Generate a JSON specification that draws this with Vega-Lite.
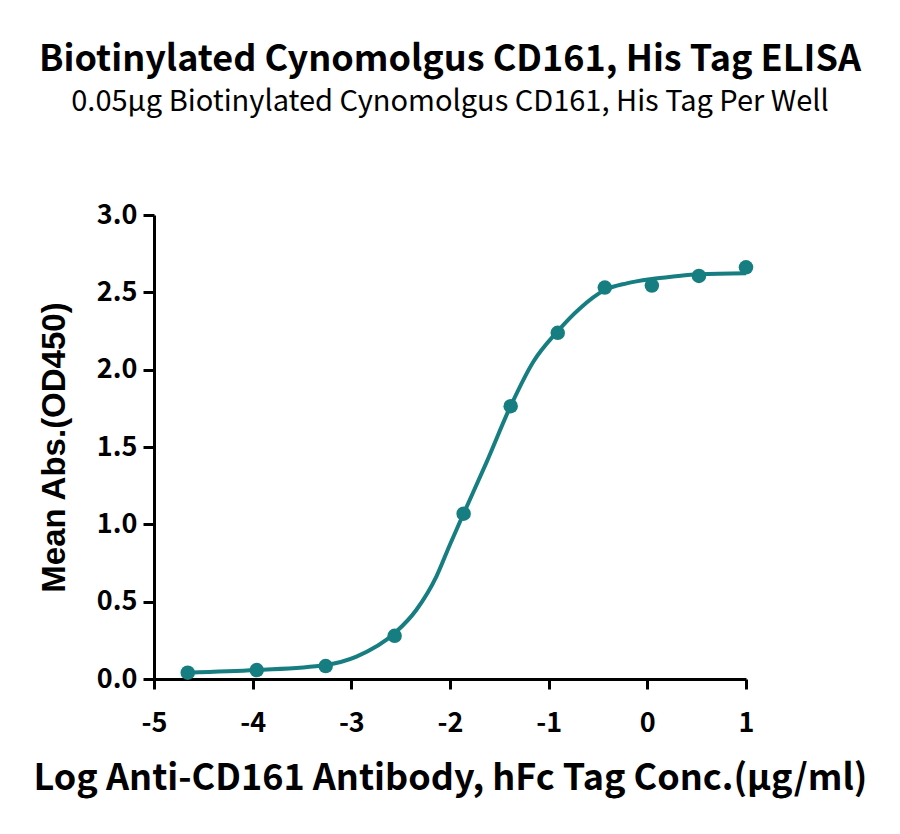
{
  "$schema": "https://vega.github.io/schema/vega-lite/v6.json",
  "width": 592,
  "height": 464,
  "autosize": {"type": "none"},
  "padding": {"left": 154, "top": 215, "right": 154, "bottom": 155},
  "background": "white",
  "title": {
    "text": "Biotinylated Cynomolgus CD161, His Tag ELISA",
    "subtitle": "0.05μg Biotinylated Cynomolgus CD161, His Tag Per Well",
    "anchor": "middle",
    "frame": "group",
    "font": "Noto Sans CJK SC",
    "fontSize": 36,
    "fontWeight": "bold",
    "color": "black",
    "subtitleFont": "Noto Sans CJK SC",
    "subtitleFontSize": 29,
    "subtitleColor": "black",
    "subtitlePadding": 9,
    "offset": 83
  },
  "datasets": {
    "points": [
      {"logc": 1.0, "od": 2.662},
      {"logc": 0.523, "od": 2.606},
      {"logc": 0.046, "od": 2.544},
      {"logc": -0.431, "od": 2.531},
      {"logc": -0.908, "od": 2.238},
      {"logc": -1.385, "od": 1.764},
      {"logc": -1.862, "od": 1.069},
      {"logc": -2.561, "od": 0.279},
      {"logc": -3.260, "od": 0.084},
      {"logc": -3.959, "od": 0.058},
      {"logc": -4.658, "od": 0.041}
    ],
    "curve": [
      {"logc": -4.658, "od": 0.041},
      {"logc": -3.962, "od": 0.058},
      {"logc": -3.260, "od": 0.091},
      {"logc": -2.948, "od": 0.145},
      {"logc": -2.560, "od": 0.297},
      {"logc": -2.340, "od": 0.448},
      {"logc": -2.137, "od": 0.664},
      {"logc": -2.000, "od": 0.870},
      {"logc": -1.865, "od": 1.065},
      {"logc": -1.630, "od": 1.401},
      {"logc": -1.386, "od": 1.764},
      {"logc": -1.157, "od": 2.050},
      {"logc": -0.914, "od": 2.245},
      {"logc": -0.684, "od": 2.396},
      {"logc": -0.431, "od": 2.515},
      {"logc": -0.210, "od": 2.558},
      {"logc": 0.044, "od": 2.586},
      {"logc": 0.263, "od": 2.602},
      {"logc": 0.526, "od": 2.617},
      {"logc": 1.0, "od": 2.623}
    ]
  },
  "encoding": {
    "x": {
      "field": "logc",
      "type": "quantitative",
      "scale": {"domain": [-5, 1], "nice": false, "zero": false},
      "axis": {
        "title": "Log Anti-CD161 Antibody, hFc Tag Conc.(μg/ml)",
        "values": [-5, -4, -3, -2, -1, 0, 1],
        "format": "d",
        "labelExpr": "replace(datum.label, '−', '-')",
        "grid": false,
        "domainColor": "black",
        "domainWidth": 3,
        "tickColor": "black",
        "tickWidth": 3,
        "tickSize": 10,
        "labelFont": "Noto Sans CJK SC",
        "labelFontWeight": "bold",
        "labelFontSize": 27,
        "labelColor": "black",
        "labelPadding": 21,
        "labelFlush": false,
        "titleFont": "Noto Sans CJK SC",
        "titleFontWeight": "bold",
        "titleFontSize": 36,
        "titleColor": "black",
        "titlePadding": 25
      }
    },
    "y": {
      "field": "od",
      "type": "quantitative",
      "scale": {"domain": [0, 3], "nice": false},
      "axis": {
        "title": "Mean Abs.(OD450)",
        "values": [0, 0.5, 1, 1.5, 2, 2.5, 3],
        "format": ".1f",
        "grid": false,
        "domainColor": "black",
        "domainWidth": 3,
        "tickColor": "black",
        "tickWidth": 3,
        "tickSize": 11,
        "labelFont": "Noto Sans CJK SC",
        "labelFontWeight": "bold",
        "labelFontSize": 27,
        "labelColor": "black",
        "labelPadding": 6,
        "labelFlush": false,
        "titleFont": "Liberation Sans",
        "titleFontWeight": "bold",
        "titleFontSize": 33,
        "titleColor": "black",
        "titlePadding": 25
      }
    }
  },
  "layer": [
    {
      "data": {"name": "curve"},
      "mark": {"type": "line", "interpolate": "monotone", "color": "#167e80", "strokeWidth": 4}
    },
    {
      "data": {"name": "points"},
      "mark": {"type": "circle", "color": "#167e80", "opacity": 1, "size": 210}
    }
  ],
  "config": {"view": {"stroke": null}}
}
